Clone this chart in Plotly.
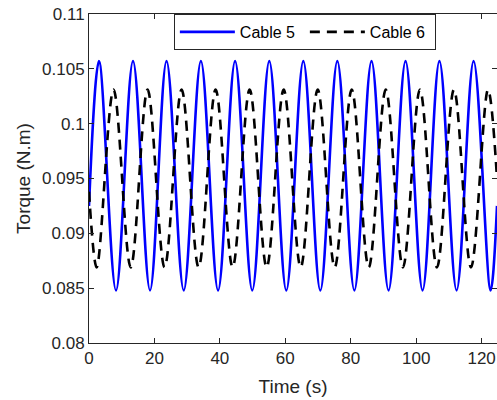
import plotly.graph_objects as go

# Cable 5 (blue): start, alternating peaks/troughs, end
cable5_time = [0, 3.05, 8.25, 13.45, 18.65, 23.7, 28.95, 34.2, 39.45, 44.65, 49.9,
               55.1, 60.3, 65.5, 70.7, 75.9, 81.1, 86.35, 91.55, 96.75, 101.95,
               107.1, 112.35, 117.55, 122.75, 124.7]
cable5_torque = [0.0925, 0.1057, 0.0848, 0.1057, 0.0848, 0.1057, 0.0848, 0.1057, 0.0848,
                 0.1057, 0.0848, 0.1057, 0.0848, 0.1057, 0.0848, 0.1057, 0.0848, 0.1057,
                 0.0848, 0.1057, 0.0848, 0.1057, 0.0848, 0.1057, 0.0848, 0.0925]

# Cable 6 (black dashed): start, alternating troughs/peaks, end
cable6_time = [0, 2.35, 7.5, 12.75, 17.9, 23.1, 28.3, 33.5, 38.7, 43.9, 49.1, 54.3,
               59.5, 64.7, 69.9, 75.1, 80.3, 85.5, 90.7, 95.95, 101.15, 106.35,
               111.55, 116.75, 121.95, 124.7]
cable6_torque = [0.0938, 0.0869, 0.1031, 0.0869, 0.1031, 0.0869, 0.1031, 0.0869, 0.1031,
                 0.0869, 0.1031, 0.0869, 0.1031, 0.0869, 0.1031, 0.0869, 0.1031, 0.0869,
                 0.1031, 0.0869, 0.1031, 0.0869, 0.1031, 0.0869, 0.1031, 0.0950]

x_ticks = [0, 20, 40, 60, 80, 100, 120]
y_ticks = [0.08, 0.085, 0.09, 0.095, 0.1, 0.105, 0.11]
y_tick_labels = ["0.08", "0.085", "0.09", "0.095", "0.1", "0.105", "0.11"]

FONT = "Liberation Sans, Arial, sans-serif"
AX = "#262626"

fig = go.Figure()
fig.add_trace(go.Scatter(x=cable5_time, y=cable5_torque, mode="lines", name="Cable 5",
                         line=dict(color="#0000ff", width=2.6, shape="spline", smoothing=1.0)))
fig.add_trace(go.Scatter(x=cable6_time, y=cable6_torque, mode="lines", name="Cable 6",
                         line=dict(color="#000000", width=2.6, shape="spline", smoothing=1.0,
                                   dash="10px,7px")))

fig.update_layout(
    width=497, height=400,
    margin=dict(l=89, r=0, t=14, b=57),
    paper_bgcolor="white", plot_bgcolor="white",
    font=dict(family=FONT, size=16, color=AX),
    legend=dict(orientation="h", x=0.208, y=1, xanchor="left", yanchor="top",
                bordercolor=AX, borderwidth=1, bgcolor="white",
                font=dict(size=16, color="#000000"), itemwidth=55,
                entrywidth=60, entrywidthmode="pixels"),
    xaxis=dict(range=[0, 124.7], tickvals=x_ticks, ticks="inside", ticklen=5,
               tickcolor=AX, showline=True, linecolor=AX, linewidth=1, mirror="allticks",
               showgrid=False, zeroline=False, tickfont=dict(size=17, color=AX),
               title=dict(text="Time (s)", font=dict(size=19, color=AX), standoff=12)),
    yaxis=dict(range=[0.08, 0.11], tickvals=y_ticks, ticktext=y_tick_labels,
               ticks="inside", ticklen=5, tickcolor=AX, showline=True, linecolor=AX,
               linewidth=1, mirror="allticks", showgrid=False, zeroline=False,
               tickfont=dict(size=17, color=AX),
               title=dict(text="Torque (N.m)", font=dict(size=19, color=AX), standoff=6)),
)

fig.write_html("out.html")
